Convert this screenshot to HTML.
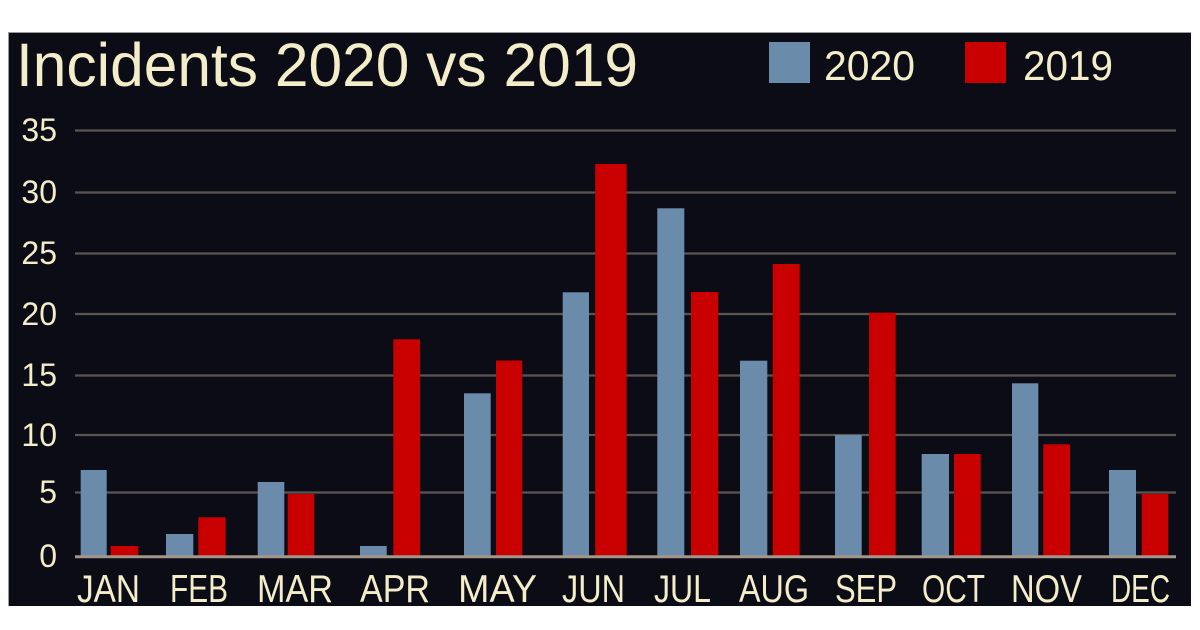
<!DOCTYPE html>
<html>
<head>
<meta charset="utf-8">
<style>
  html, body { margin: 0; padding: 0; background: #ffffff; }
  body { width: 1200px; height: 630px; overflow: hidden; }
  svg { display: block; }
  text { font-family: "Liberation Sans", "DejaVu Sans", sans-serif; fill: #f4edc9; }
</style>
</head>
<body>
<svg width="1200" height="630" viewBox="0 0 1200 630" xmlns="http://www.w3.org/2000/svg">
  <rect x="0" y="0" width="1200" height="630" fill="#ffffff"/>
  <!-- panel -->
  <rect x="8" y="32" width="1183" height="574" fill="#0b0c16"/>
  <line x1="8" y1="32.5" x2="1191" y2="32.5" stroke="#9a9a9a" stroke-width="1"/>
  <line x1="8.5" y1="32" x2="8.5" y2="606" stroke="#9a9a9a" stroke-width="1"/>

  <!-- title -->
  <text x="16" y="86" font-size="61" textLength="622" lengthAdjust="spacingAndGlyphs">Incidents 2020 vs 2019</text>

  <!-- legend -->
  <rect x="769" y="42" width="41" height="41" fill="#6a8caa"/>
  <text x="824" y="80" font-size="42" textLength="91" lengthAdjust="spacingAndGlyphs">2020</text>
  <rect x="965" y="42" width="41" height="41" fill="#c80000"/>
  <text x="1023" y="80" font-size="42" textLength="90" lengthAdjust="spacingAndGlyphs">2019</text>

  <!-- gridlines -->
  <g stroke="#5c5451" stroke-width="2.2">
    <line x1="75" y1="130.5" x2="1176" y2="130.5"/>
    <line x1="75" y1="192.5" x2="1176" y2="192.5"/>
    <line x1="75" y1="253.5" x2="1176" y2="253.5"/>
    <line x1="75" y1="314" x2="1176" y2="314"/>
    <line x1="75" y1="375.5" x2="1176" y2="375.5"/>
    <line x1="75" y1="435" x2="1176" y2="435"/>
    <line x1="75" y1="492.5" x2="1176" y2="492.5"/>
  </g>

  <!-- y labels -->
  <g font-size="32" text-anchor="end">
    <text x="57" y="141">35</text>
    <text x="57" y="203">30</text>
    <text x="57" y="264">25</text>
    <text x="57" y="325">20</text>
    <text x="57" y="386">15</text>
    <text x="57" y="446">10</text>
    <text x="57" y="503">5</text>
    <text x="57" y="567">0</text>
  </g>

  <!-- bars 2020 -->
  <g fill="#6a8caa">
    <rect x="80.7" y="470" width="26" height="87"/>
    <rect x="166" y="534" width="27.3" height="23"/>
    <rect x="257.7" y="482" width="26.6" height="75"/>
    <rect x="360" y="546" width="26.7" height="11"/>
    <rect x="464" y="393.3" width="26.7" height="163.7"/>
    <rect x="562.7" y="292.3" width="26.3" height="264.7"/>
    <rect x="657.3" y="208.3" width="27" height="348.7"/>
    <rect x="740" y="360.7" width="27.3" height="196.3"/>
    <rect x="835" y="435" width="26.7" height="122"/>
    <rect x="921.7" y="454" width="27.3" height="103"/>
    <rect x="1012" y="383.3" width="26.3" height="173.7"/>
    <rect x="1109" y="470" width="27" height="87"/>
  </g>
  <!-- bars 2019 -->
  <g fill="#c80000">
    <rect x="110.7" y="546" width="27.6" height="11"/>
    <rect x="198.3" y="517.3" width="27.4" height="39.7"/>
    <rect x="287.7" y="494" width="26.6" height="63"/>
    <rect x="393.3" y="339.3" width="26.7" height="217.7"/>
    <rect x="496" y="360.5" width="26.3" height="196.5"/>
    <rect x="595.2" y="164" width="31.5" height="393"/>
    <rect x="691" y="292" width="27.3" height="265"/>
    <rect x="772.7" y="264" width="27" height="293"/>
    <rect x="869" y="312.7" width="26.7" height="244.3"/>
    <rect x="954" y="454" width="26.7" height="103"/>
    <rect x="1043.3" y="444.3" width="26.7" height="112.7"/>
    <rect x="1141.7" y="494" width="26.6" height="63"/>
  </g>

  <!-- zero axis -->
  <line x1="75" y1="556.7" x2="1176" y2="556.7" stroke="#a39689" stroke-width="3"/>

  <!-- x labels -->
  <g font-size="39">
    <text x="77" y="602" textLength="63" lengthAdjust="spacingAndGlyphs">JAN</text>
    <text x="170" y="602" textLength="58" lengthAdjust="spacingAndGlyphs">FEB</text>
    <text x="257" y="602" textLength="76" lengthAdjust="spacingAndGlyphs">MAR</text>
    <text x="360" y="602" textLength="70" lengthAdjust="spacingAndGlyphs">APR</text>
    <text x="458" y="602" textLength="79" lengthAdjust="spacingAndGlyphs">MAY</text>
    <text x="562" y="602" textLength="63" lengthAdjust="spacingAndGlyphs">JUN</text>
    <text x="654" y="602" textLength="57" lengthAdjust="spacingAndGlyphs">JUL</text>
    <text x="739" y="602" textLength="70" lengthAdjust="spacingAndGlyphs">AUG</text>
    <text x="835" y="602" textLength="62" lengthAdjust="spacingAndGlyphs">SEP</text>
    <text x="922" y="602" textLength="63" lengthAdjust="spacingAndGlyphs">OCT</text>
    <text x="1011" y="602" textLength="71" lengthAdjust="spacingAndGlyphs">NOV</text>
    <text x="1111" y="602" textLength="59" lengthAdjust="spacingAndGlyphs">DEC</text>
  </g>
</svg>
</body>
</html>
